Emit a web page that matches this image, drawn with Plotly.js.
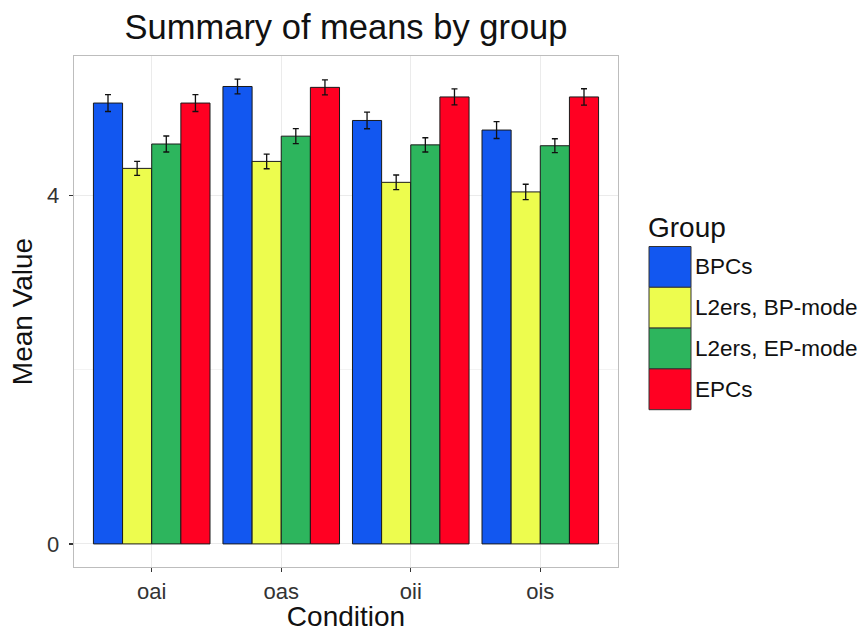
<!DOCTYPE html>
<html>
<head>
<meta charset="utf-8">
<script src="https://cdn.plot.ly/plotly-3.0.1.min.js"></script>
<style>html,body{margin:0;padding:0;background:#fff;}#chart{width:862px;height:632px;}</style>
</head>
<body>
<div id="chart"></div>
<script>
// ---- data ----
const conditions = ["oai", "oas", "oii", "ois"];
const groups = ["BPCs", "L2ers, BP-mode", "L2ers, EP-mode", "EPCs"];
const groupColors = ["#1257F0", "#EDFC4E", "#2DB55D", "#FF0022"];
const meansBPCs   = [5.06, 5.25, 4.86, 4.75];
const meansL2BP   = [4.31, 4.39, 4.15, 4.04];
const meansL2EP   = [4.59, 4.68, 4.58, 4.57];
const meansEPCs   = [5.06, 5.24, 5.13, 5.13];
const seBPCs = [0.097, 0.084, 0.095, 0.097];
const seL2BP = [0.080, 0.084, 0.084, 0.088];
const seL2EP = [0.092, 0.086, 0.082, 0.080];
const seEPCs = [0.097, 0.086, 0.092, 0.094];
const yTicks = [0, 4];
const yMinorTicks = [2];

const means = [meansBPCs, meansL2BP, meansL2EP, meansEPCs];
const ses = [seBPCs, seL2BP, seL2EP, seEPCs];

const font = "Liberation Sans, Arial, Helvetica, sans-serif";

const traces = groups.map((g, i) => ({
  type: "bar",
  name: g,
  x: conditions,
  y: means[i],
  marker: {color: groupColors[i], line: {color: "#1a1a1a", width: 1}},
  error_y: {type: "data", array: ses[i], visible: true, color: "#111", thickness: 1.3, width: 3},
  showlegend: false,
  hoverinfo: "x+y+name"
}));

// plot area in pixels
const W = 862, H = 632;
const mL = 74, mR = 244, mT = 56, mB = 65;
const pw = W - mL - mR, ph = H - mT - mB;
const px2x = p => (p - mL) / pw;
const px2y = p => (H - mB - p) / ph;

const shapes = [];
const annotations = [];
// legend title
annotations.push({xref: "paper", yref: "paper", x: px2x(646), y: px2y(227), xanchor: "left", yanchor: "middle",
  text: "Group", showarrow: false, font: {family: font, size: 28, color: "#111"}});
const boxTop = 246.5, boxH = 40.8, boxL = 649, boxW = 42;
groups.forEach((g, i) => {
  const t = boxTop + i * boxH;
  shapes.push({type: "rect", xref: "paper", yref: "paper", x0: px2x(boxL), x1: px2x(boxL + boxW),
    y0: px2y(t + boxH), y1: px2y(t), fillcolor: groupColors[i], line: {color: "#333", width: 1}, layer: "above"});
  annotations.push({xref: "paper", yref: "paper", x: px2x(boxL + boxW + 2), y: px2y(t + boxH / 2), xanchor: "left", yanchor: "middle",
    text: g, showarrow: false, font: {family: font, size: 22.5, color: "#111"}});
});

const layout = {
  width: W, height: H,
  paper_bgcolor: "#fff", plot_bgcolor: "#fff",
  margin: {l: mL, r: mR, t: mT, b: mB},
  font: {family: font, color: "#111"},
  title: {text: "Summary of means by group", font: {family: font, size: 34.5, color: "#111"},
    x: (mL + pw / 2) / W, xanchor: "center", y: 1 - 27 / H, yanchor: "middle"},
  barmode: "group", bargap: 0.1, bargroupgap: 0,
  xaxis: {
    type: "category", range: [-0.6, 3.6],
    showgrid: true, gridcolor: "#EBEBEB", gridwidth: 1,
    showline: true, mirror: true, linecolor: "#BDBDBD", linewidth: 1.3,
    ticks: "outside", ticklen: 4, tickcolor: "#333", tickwidth: 1.3,
    tickfont: {family: font, size: 22, color: "#333"},
    title: {text: "Condition", font: {family: font, size: 28, color: "#111"}, standoff: 2},
    automargin: false, zeroline: false, fixedrange: true
  },
  yaxis: {
    range: [-0.265, 5.6],
    tickvals: yTicks, ticktext: yTicks.map(String),
    showgrid: true, gridcolor: "#EBEBEB", gridwidth: 1,
    minor: {tickvals: yMinorTicks, showgrid: true, gridcolor: "#F3F3F3", gridwidth: 1, ticks: ""},
    showline: true, mirror: true, linecolor: "#BDBDBD", linewidth: 1.3,
    ticks: "outside", ticklen: 4, tickcolor: "#333", tickwidth: 1.3,
    ticklabelstandoff: 5,
    tickfont: {family: font, size: 22, color: "#333"},
    title: {text: "Mean Value", font: {family: font, size: 28, color: "#111"}, standoff: 6},
    automargin: false, zeroline: false, fixedrange: true
  },
  shapes: shapes,
  annotations: annotations
};

Plotly.newPlot("chart", traces, layout, {displayModeBar: false, staticPlot: true});
</script>
</body>
</html>
